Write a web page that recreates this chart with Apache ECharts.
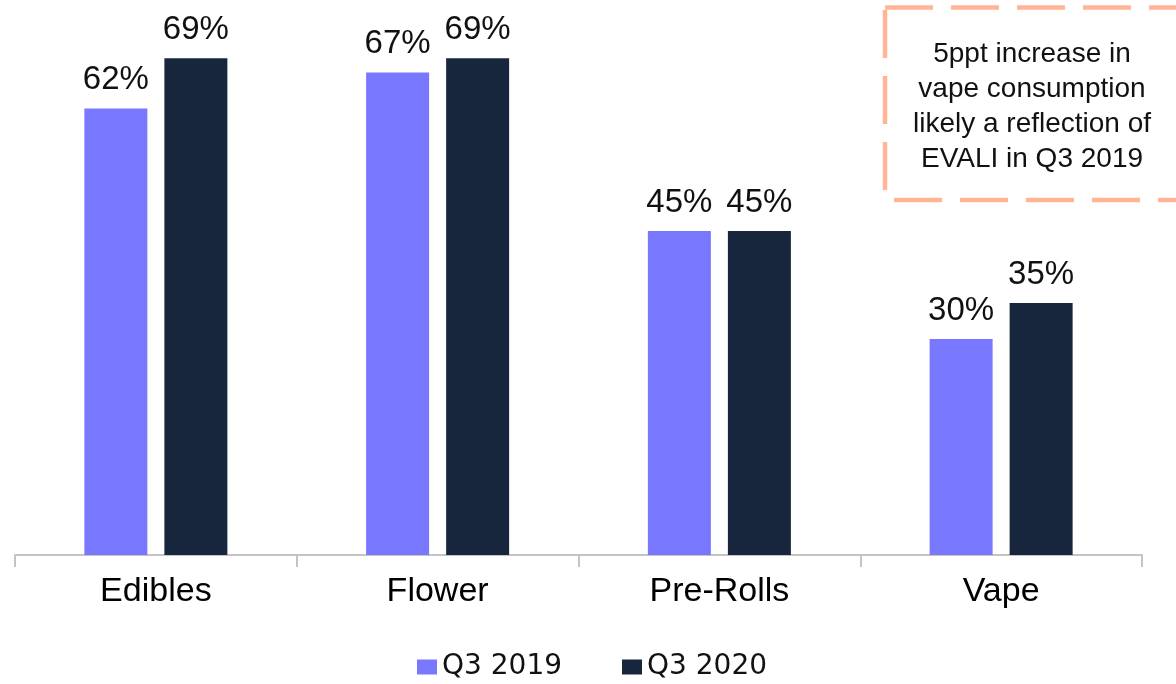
<!DOCTYPE html>
<html>
<head>
<meta charset="utf-8">
<script src="https://cdn.jsdelivr.net/npm/echarts@6/dist/echarts.min.js"></script>
<style>
  html, body { margin: 0; padding: 0; background: #ffffff; }
  #chart { width: 1176px; height: 684px; }
</style>
</head>
<body>
<div id="chart"></div>
<script>
// Product categories and share of consumers by quarter (%)
const categories = ['Edibles', 'Flower', 'Pre-Rolls', 'Vape'];
const seriesNames = ['Q3 2019', 'Q3 2020'];
const q3_2019 = [62, 67, 45, 30];
const q3_2020 = [69, 69, 45, 35];
const noteLines = [
  '5ppt increase in',
  'vape consumption',
  'likely a reflection of',
  'EVALI in Q3 2019'
];

const COLOR_2019 = '#7878FF';
const COLOR_2020 = '#17253D';
const NOTE_COLOR = '#FFB596';

const chart = echarts.init(document.getElementById('chart'), null, { renderer: 'canvas' });

const valueLabel = {
  show: true,
  position: 'top',
  distance: 12,
  formatter: '{c}%',
  color: '#111111',
  fontFamily: 'Liberation Sans',
  fontSize: 33
};

chart.setOption({
  animation: false,
  backgroundColor: '#ffffff',
  grid: { left: 15, right: 34, top: 51, bottom: 129, containLabel: false },
  xAxis: {
    type: 'category',
    data: categories,
    boundaryGap: true,
    axisLine: { show: true, lineStyle: { color: '#C4C4C4', width: 2 } },
    axisTick: { show: true, length: 12, lineStyle: { color: '#C4C4C4', width: 2 } },
    axisLabel: {
      margin: 20,
      color: '#000000',
      fontFamily: 'Liberation Sans',
      fontSize: 34
    }
  },
  yAxis: {
    type: 'value',
    min: 0,
    max: 70,
    show: false,
    splitLine: { show: false }
  },
  legend: {
    data: seriesNames,
    left: 412,
    top: 648,
    icon: 'rect',
    itemWidth: 20,
    itemHeight: 15,
    itemGap: 60,
    textStyle: {
      color: '#111111',
      fontFamily: 'DejaVu Sans',
      fontSize: 28
    }
  },
  series: [
    {
      name: seriesNames[0],
      type: 'bar',
      data: q3_2019,
      barWidth: 63,
      barGap: '27%',
      itemStyle: { color: COLOR_2019 },
      label: valueLabel
    },
    {
      name: seriesNames[1],
      type: 'bar',
      data: q3_2020,
      barWidth: 63,
      barGap: '27%',
      itemStyle: { color: COLOR_2020 },
      label: valueLabel
    }
  ],
  graphic: [
    // dashed call-out frame, open on the right edge
    {
      type: 'polyline',
      shape: { points: [[885, 7.5], [1180, 7.5]] },
      style: { stroke: NOTE_COLOR, lineWidth: 4.5, lineDash: [48, 18], fill: null }
    },
    {
      type: 'polyline',
      shape: { points: [[885, 10], [885, 200]] },
      style: { stroke: NOTE_COLOR, lineWidth: 4.5, lineDash: [48, 18], fill: null }
    },
    {
      type: 'polyline',
      shape: { points: [[894, 200], [1180, 200]] },
      style: { stroke: NOTE_COLOR, lineWidth: 4.5, lineDash: [48, 18], fill: null }
    },
    {
      type: 'text',
      x: 1032,
      y: 37,
      style: {
        text: noteLines.join('\n'),
        x: 0,
        y: 0,
        align: 'center',
        verticalAlign: 'top',
        lineHeight: 35,
        fill: '#111111',
        font: '28px "Liberation Sans"'
      }
    }
  ]
});
</script>
</body>
</html>
